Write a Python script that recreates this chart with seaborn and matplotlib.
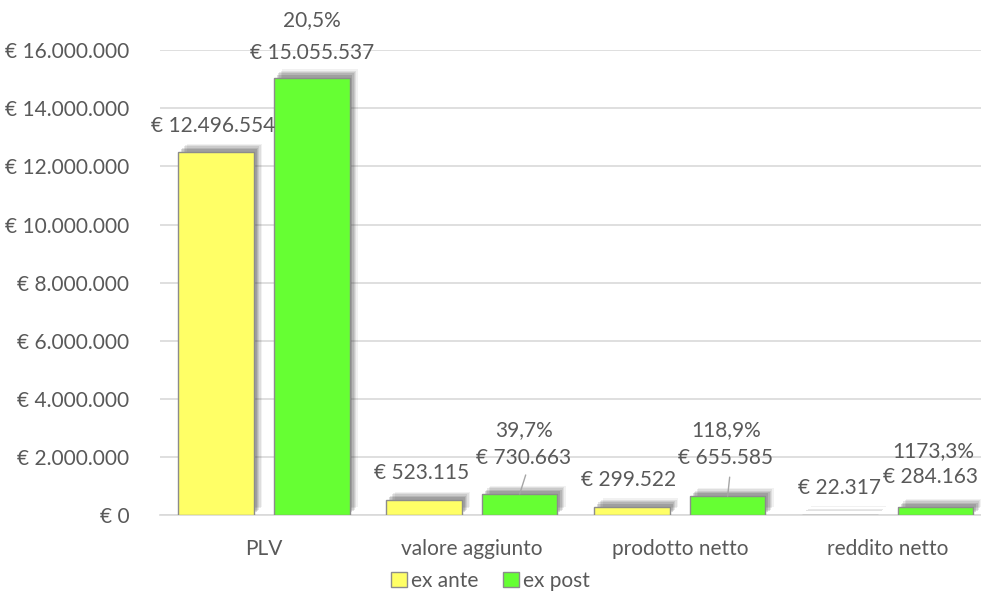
import matplotlib
matplotlib.use("Agg")
import matplotlib.pyplot as plt
import matplotlib.patheffects as pe
import pandas as pd
import seaborn as sns

# data
categorie = ["PLV", "valore aggiunto", "prodotto netto", "reddito netto"]
ex_ante = [12496554, 523115, 299522, 22317]
ex_post = [15055537, 730663, 655585, 284163]
serie = ["ex ante", "ex post"]
y_ticks = [0, 2000000, 4000000, 6000000, 8000000, 10000000, 12000000, 14000000, 16000000]

df = pd.DataFrame({
    "categoria": categorie * 2,
    "valore": ex_ante + ex_post,
    "serie": [serie[0]] * 4 + [serie[1]] * 4,
})

def euro(v):
    return "€ " + f"{v:,.0f}".replace(",", ".")

def perc(a, b):
    return f"{(b / a - 1) * 100:.1f}%".replace(".", ",")

sns.set_theme(style="white")
plt.rcParams["font.family"] = ["Lato", "DejaVu Sans"]
txt = "#595959"
fs = 15

fig = plt.figure(figsize=(9.81, 5.97), dpi=100)
# plot area runs a bit past the right edge (image is cropped)
ax = fig.add_axes([0.163, 0.137, 0.848, 0.779])

sns.barplot(data=df, x="categoria", y="valore", hue="serie", order=categorie,
            hue_order=serie, palette=["#FFFF66", "#66FF33"], width=0.92, gap=0.21,
            edgecolor="#8c8c8c", linewidth=1, saturation=1, ax=ax, zorder=3)

# fake blurred shadow
shadow = []
for dx, dy, a in [(6, 6, 0.07), (5, 5, 0.1), (4, 4, 0.12), (3, 3, 0.15), (2, 2, 0.18)]:
    shadow.append(pe.SimplePatchShadow(offset=(dx, dy), shadow_rgbFace="#404040", alpha=a))
for p in ax.patches:
    p.set_path_effects(shadow + [pe.Normal()])

ax.set_ylim(0, 16000000)
ax.set_yticks(y_ticks)
ax.set_yticklabels([euro(v) for v in y_ticks], color=txt, fontsize=fs)
ax.tick_params(axis="x", colors=txt, labelsize=fs, pad=17)
ax.tick_params(axis="y", pad=22, length=0)
ax.tick_params(axis="x", length=0)
ax.yaxis.grid(True, color="#d9d9d9", linewidth=1.2, zorder=0)
ax.set_axisbelow(True)
for s in ["top", "right", "left"]:
    ax.spines[s].set_visible(False)
ax.spines["bottom"].set_color("#d9d9d9")
ax.spines["bottom"].set_linewidth(1.2)
ax.set_xlabel("")
ax.set_ylabel("")
ax.set_xlim(-0.5, 3.5)

# data labels (offsets in pixels)
off = 0.23
ante_dy = [26, 27, 27, 27]
ante_dx = [-3, -2, -3, 0]
post_dy = [25, 36, 38, 30]
post_dx = [0, 4, -2, -5]
pct_dy = [58, 64, 66, 56]
pct_dx = [0, 4, -2, -2]
for i in range(4):
    ax.annotate(euro(ex_ante[i]), (i - off, ex_ante[i]), xytext=(ante_dx[i], ante_dy[i]),
                textcoords="offset pixels", ha="center", va="center", color=txt,
                fontsize=fs, annotation_clip=False)
    ax.annotate(euro(ex_post[i]), (i + off, ex_post[i]), xytext=(post_dx[i], post_dy[i]),
                textcoords="offset pixels", ha="center", va="center", color=txt,
                fontsize=fs, annotation_clip=False)
    ax.annotate(perc(ex_ante[i], ex_post[i]), (i + off, ex_post[i]), xytext=(pct_dx[i], pct_dy[i]),
                textcoords="offset pixels", ha="center", va="center", color=txt,
                fontsize=fs, annotation_clip=False)

# leader lines
for i, dx in [(1, 6), (2, 2)]:
    ax.annotate("", xy=(i + off, ex_post[i]), xytext=(dx, 19),
                textcoords="offset pixels",
                arrowprops=dict(arrowstyle="-", color="#a6a6a6", lw=1, shrinkA=0, shrinkB=0))

handles, labels = ax.get_legend_handles_labels()
for h in handles:
    h.set_path_effects([])
ax.legend(handles, labels, loc="center", bbox_to_anchor=(0.5, 1 - 581 / 597),
          bbox_transform=fig.transFigure, ncol=2, frameon=False, fontsize=fs,
          handlelength=0.75, handleheight=0.75, handletextpad=0.2, columnspacing=1.2,
          labelcolor=txt)

fig.savefig("out.png", dpi=100)
